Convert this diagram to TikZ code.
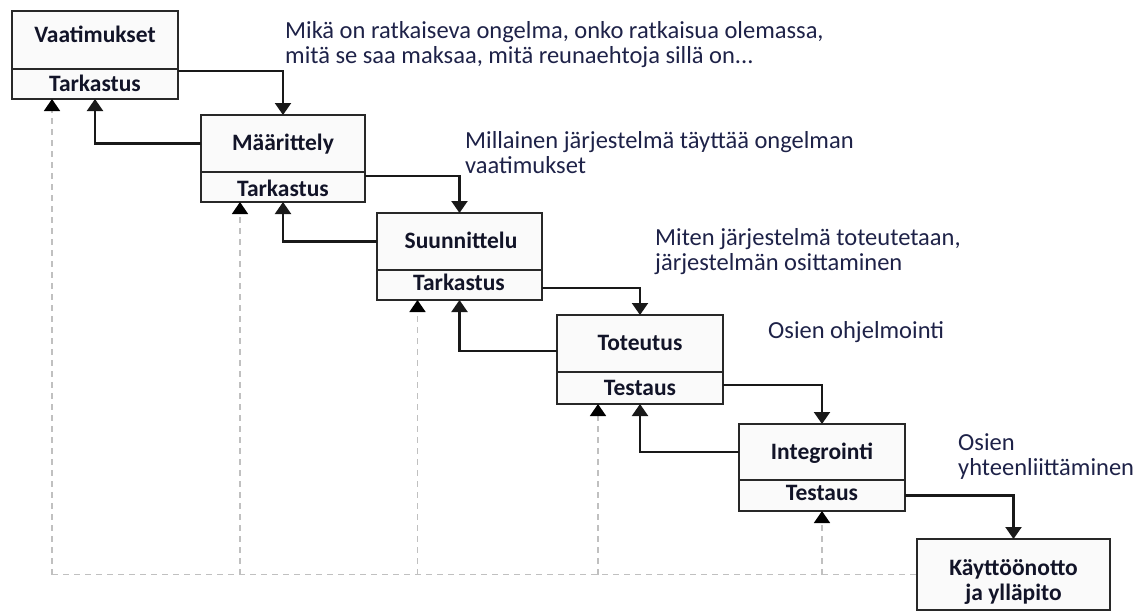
\documentclass[tikz,border=0pt]{standalone}
\usepackage{fontspec}
\setmainfont{Carlito}
\usetikzlibrary{arrows.meta}
\definecolor{boxline}{RGB}{40,40,40}
\definecolor{boxfill}{RGB}{250,250,250}
\definecolor{labelcol}{RGB}{18,20,40}
\definecolor{notecol}{RGB}{30,34,72}
\definecolor{dashcol}{RGB}{192,192,192}
\tikzset{
  part/.style={draw=boxline, line width=2.2pt, fill=boxfill, inner sep=0pt, outer sep=0pt},
  boxlabel/.style={anchor=base, inner sep=0pt, text=labelcol, font=\fontsize{23.5}{25}\selectfont\bfseries},
  note/.style={anchor=base west, inner sep=0pt, text=notecol, font=\fontsize{24.5}{25}\selectfont},
  arr/.style={draw=black!90, line width=2.1pt, -{Triangle[width=16pt,length=12pt]}},
  dline/.style={draw=dashcol, line width=1.6pt, dash pattern=on 6pt off 5pt},
  darr/.style={dline, -{Triangle[width=16pt,length=12pt,color=black]}}
}
\begin{document}
\begin{tikzpicture}[x=1pt,y=-1pt]
\useasboundingbox (0,0) rectangle (1144,614);
% boxes
\node[part, minimum width=166, minimum height=58] (b1) at (95,40) {};
\node[part, minimum width=166, minimum height=30] (t1) at (95,84) {};
\node[part, minimum width=164, minimum height=57] (b2) at (283,143.5) {};
\node[part, minimum width=164, minimum height=30] (t2) at (283,187) {};
\node[part, minimum width=165, minimum height=57] (b3) at (459.5,241.5) {};
\node[part, minimum width=165, minimum height=30] (t3) at (459.5,285) {};
\node[part, minimum width=166, minimum height=57] (b4) at (640,343.5) {};
\node[part, minimum width=166, minimum height=32] (t4) at (640,388) {};
\node[part, minimum width=166, minimum height=56] (b5) at (822,452) {};
\node[part, minimum width=166, minimum height=31] (t5) at (822,495.5) {};
\node[part, minimum width=193, minimum height=71] (b6) at (1013.5,574.5) {};
% box labels
\node[boxlabel] (l1) at (95,42) {Vaatimukset};
\node[boxlabel] (k1) at (95,91) {Tarkastus};
\node[boxlabel] (l2) at (283,150) {Määrittely};
\node[boxlabel] (k2) at (283,196.5) {Tarkastus};
\node[boxlabel] (l3) at (461,248) {Suunnittelu};
\node[boxlabel] (k3) at (459,290) {Tarkastus};
\node[boxlabel] (l4) at (640,350) {Toteutus};
\node[boxlabel] (k4) at (640,395) {Testaus};
\node[boxlabel] (l5) at (822,459) {Integrointi};
\node[boxlabel] (k5) at (822,500) {Testaus};
\node[boxlabel] (l6a) at (1013.5,575) {Käyttöönotto};
\node[boxlabel] (l6b) at (1013.5,600) {ja ylläpito};
% annotations
\node[note] (n1a) at (285,38) {Mikä on ratkaiseva ongelma, onko ratkaisua olemassa,};
\node[note] (n1b) at (285,63) {mitä se saa maksaa, mitä reunaehtoja sillä on...};
\node[note] (n2a) at (465,148) {Millainen järjestelmä täyttää ongelman};
\node[note] (n2b) at (465,173) {vaatimukset};
\node[note] (n3a) at (655,245) {Miten järjestelmä toteutetaan,};
\node[note] (n3b) at (655,270) {järjestelmän osittaminen};
\node[note] (n4) at (768,338) {Osien ohjelmointi};
\node[note] (n5a) at (958,450) {Osien};
\node[note] (n5b) at (958,475) {yhteenliittäminen};
% dashed feedback
\coordinate (d1) at ([xshift=-43pt]t1.south);
\coordinate (d2) at ([xshift=-43pt]t2.south);
\coordinate (d3) at ([xshift=-42pt]t3.south);
\coordinate (d4) at ([xshift=-42pt]t4.south);
\coordinate (d5) at (t5.south);
\draw[dline] (d1 |- b6.west) -- (b6.west);
\draw[darr] (d1 |- b6.west) -- (d1);
\draw[darr] (d2 |- b6.west) -- (d2);
\draw[darr] (d3 |- b6.west) -- (d3);
\draw[darr] (d4 |- b6.west) -- (d4);
\draw[darr] (d5 |- b6.west) -- (d5);
% forward arrows
\draw[arr] ([yshift=13pt]t1.east) -| (b2.north);
\draw[arr] ([yshift=11pt]t2.east) -| (b3.north);
\draw[arr] ([yshift=-3pt]t3.east) -| (b4.north);
\draw[arr] ([yshift=3pt]t4.east) -| (b5.north);
\draw[arr] (t5.east) -| (b6.north);
% backward arrows
\draw[arr] (b2.west) -| (t1.south);
\draw[arr] (b3.west) -| (t2.south);
\draw[arr] ([yshift=-7.5pt]b4.west) -| (t3.south);
\draw[arr] (b5.west) -| (t4.south);
\end{tikzpicture}
\end{document}
